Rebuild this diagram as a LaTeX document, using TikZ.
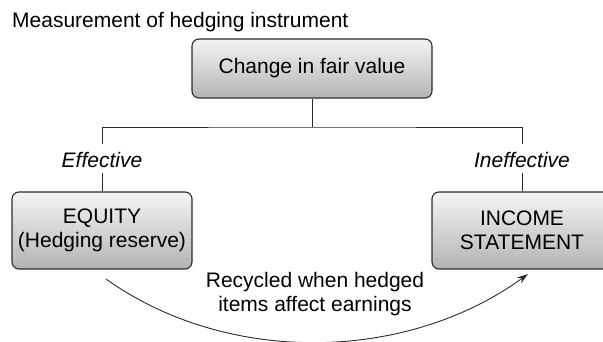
\documentclass[tikz,border=0pt]{standalone}
\usepackage{fontspec}
\setmainfont{Liberation Sans}
\usetikzlibrary{arrows.meta}
\definecolor{inkline}{HTML}{2B2B2B}
\definecolor{boxtop}{HTML}{F4F4F4}
\definecolor{boxbottom}{HTML}{B4B4B4}
\begin{document}
\begin{tikzpicture}[x=1pt, y=-1pt,
  every node/.style={font=\fontsize{21}{23.5}\selectfont, text=black},
  panel/.style={draw=inkline, line width=1.1pt, rounded corners=7pt,
    top color=boxtop, bottom color=boxbottom, align=center, inner sep=0pt},
  branch/.style={inner xsep=0pt, inner ysep=5pt, text height=19pt, text depth=0pt,
    font=\fontsize{21}{23.5}\selectfont\itshape},
  wire/.style={draw=inkline, line width=0.9pt},
]
\clip (0,0) rectangle (603,342);

% heading
\node[anchor=base west, inner sep=0pt] (title) at (12,27.5) {Measurement of hedging instrument};

% boxes
\node[panel, minimum width=240pt, minimum height=59pt] (fair) at (312,68.5) {Change in fair value};
\node[panel, minimum width=180pt, minimum height=77pt] (equity) at (102,230.5) {EQUITY\\(Hedging reserve)};
\node[panel, minimum width=180pt, minimum height=77pt] (income) at (522,230.5) {INCOME\\STATEMENT};

% branch labels
\node[branch, anchor=base] (eff) at (102,168) {Effective};
\node[branch, anchor=base] (ineff) at (522,168) {Ineffective};

% split tree
\coordinate (split) at (312,127);
\draw[wire] (fair.south) -- (split);
\draw[wire] (eff.north) |- (split) -| (ineff.north);
\draw[wire] (eff.south) -- (equity.north);
\draw[wire] (ineff.south) -- (income.north);

% recycling arc
\coordinate (recStart) at (106,279);
\coordinate (recEnd) at (528,274);
\coordinate (bendA) at (228,366);
\coordinate (bendB) at (407,362);
\draw[wire, -{Stealth[length=11pt, width=7pt]}] (recStart) .. controls (bendA) and (bendB) .. (recEnd);
\node[align=center, inner sep=0pt] (recycle) at (315,294) {Recycled when hedged\\items affect earnings};
\end{tikzpicture}
\end{document}
